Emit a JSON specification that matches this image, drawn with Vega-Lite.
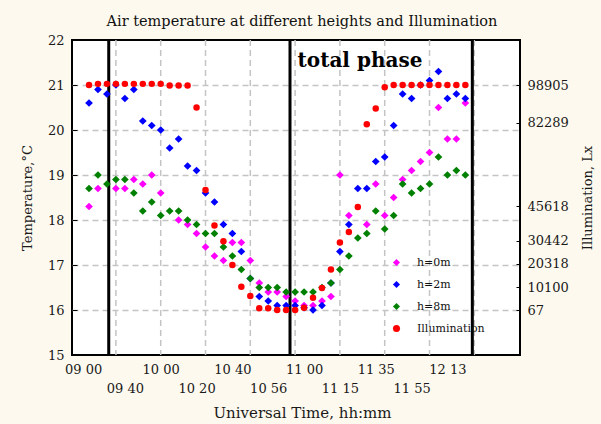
{
  "$schema": "https://vega.github.io/schema/vega-lite/v6.json",
  "width": 448,
  "height": 315,
  "autosize": {"type": "none"},
  "padding": {"left": 72, "top": 40, "right": 81, "bottom": 69},
  "background": "#fdf9ee",
  "title": {"text": "Air temperature at different heights and Illumination", "font": "DejaVu Serif", "fontSize": 14.5, "fontWeight": "normal", "color": "#111", "offset": 5, "dx": 6},
  "config": {
    "view": {"fill": "white", "stroke": "#000", "strokeWidth": 2},
    "font": "DejaVu Serif",
    "axis": {"domain": false, "labelFont": "DejaVu Serif", "titleFont": "DejaVu Serif", "labelFontSize": 13, "titleFontSize": 13, "titleFontWeight": "normal", "labelColor": "#1a1a1a", "titleColor": "#1a1a1a", "tickColor": "#000", "gridColor": "#c4c4c4", "gridDash": [6, 4], "gridWidth": 1.5},
    "legend": {"labelFont": "DejaVu Serif", "labelFontSize": 11, "labelColor": "#111"}
  },
  "datasets": {
    "temps": [
      {"k":2,"T":18.3,"series":"h=0m"},{"k":3,"T":18.7,"series":"h=0m"},{"k":5,"T":18.7,"series":"h=0m"},{"k":6,"T":18.7,"series":"h=0m"},{"k":7,"T":18.9,"series":"h=0m"},{"k":8,"T":18.8,"series":"h=0m"},{"k":9,"T":19.0,"series":"h=0m"},{"k":10,"T":18.6,"series":"h=0m"},{"k":12,"T":18.0,"series":"h=0m"},{"k":13,"T":17.9,"series":"h=0m"},{"k":14,"T":17.7,"series":"h=0m"},{"k":15,"T":17.4,"series":"h=0m"},{"k":16,"T":17.2,"series":"h=0m"},{"k":17,"T":17.1,"series":"h=0m"},{"k":18,"T":17.5,"series":"h=0m"},{"k":19,"T":17.5,"series":"h=0m"},{"k":20,"T":17.1,"series":"h=0m"},{"k":21,"T":16.6,"series":"h=0m"},{"k":22,"T":16.4,"series":"h=0m"},{"k":23,"T":16.4,"series":"h=0m"},{"k":24,"T":16.3,"series":"h=0m"},{"k":25,"T":16.2,"series":"h=0m"},{"k":26,"T":16.1,"series":"h=0m"},{"k":27,"T":16.1,"series":"h=0m"},{"k":28,"T":16.2,"series":"h=0m"},{"k":29,"T":16.3,"series":"h=0m"},{"k":30,"T":19.0,"series":"h=0m"},{"k":31,"T":18.1,"series":"h=0m"},{"k":33,"T":17.9,"series":"h=0m"},{"k":34,"T":18.8,"series":"h=0m"},{"k":35,"T":18.1,"series":"h=0m"},{"k":36,"T":18.5,"series":"h=0m"},{"k":37,"T":18.9,"series":"h=0m"},{"k":38,"T":19.1,"series":"h=0m"},{"k":39,"T":19.3,"series":"h=0m"},{"k":40,"T":19.5,"series":"h=0m"},{"k":41,"T":20.5,"series":"h=0m"},{"k":42,"T":19.8,"series":"h=0m"},{"k":43,"T":19.8,"series":"h=0m"},{"k":44,"T":20.6,"series":"h=0m"},
      {"k":2,"T":20.6,"series":"h=2m"},{"k":3,"T":20.9,"series":"h=2m"},{"k":4,"T":20.8,"series":"h=2m"},{"k":5,"T":21.0,"series":"h=2m"},{"k":6,"T":20.7,"series":"h=2m"},{"k":7,"T":20.9,"series":"h=2m"},{"k":8,"T":20.2,"series":"h=2m"},{"k":9,"T":20.1,"series":"h=2m"},{"k":10,"T":20.0,"series":"h=2m"},{"k":11,"T":19.6,"series":"h=2m"},{"k":12,"T":19.8,"series":"h=2m"},{"k":13,"T":19.2,"series":"h=2m"},{"k":14,"T":19.1,"series":"h=2m"},{"k":15,"T":18.6,"series":"h=2m"},{"k":16,"T":18.4,"series":"h=2m"},{"k":17,"T":17.9,"series":"h=2m"},{"k":18,"T":17.7,"series":"h=2m"},{"k":19,"T":17.3,"series":"h=2m"},{"k":20,"T":16.7,"series":"h=2m"},{"k":21,"T":16.3,"series":"h=2m"},{"k":22,"T":16.2,"series":"h=2m"},{"k":23,"T":16.1,"series":"h=2m"},{"k":24,"T":16.1,"series":"h=2m"},{"k":25,"T":16.1,"series":"h=2m"},{"k":26,"T":16.05,"series":"h=2m"},{"k":27,"T":16.0,"series":"h=2m"},{"k":28,"T":16.1,"series":"h=2m"},{"k":29,"T":16.6,"series":"h=2m"},{"k":30,"T":17.3,"series":"h=2m"},{"k":31,"T":17.9,"series":"h=2m"},{"k":32,"T":18.7,"series":"h=2m"},{"k":33,"T":18.7,"series":"h=2m"},{"k":34,"T":19.3,"series":"h=2m"},{"k":35,"T":19.4,"series":"h=2m"},{"k":36,"T":20.1,"series":"h=2m"},{"k":37,"T":20.8,"series":"h=2m"},{"k":38,"T":20.7,"series":"h=2m"},{"k":39,"T":21.0,"series":"h=2m"},{"k":40,"T":21.1,"series":"h=2m"},{"k":41,"T":21.3,"series":"h=2m"},{"k":42,"T":20.7,"series":"h=2m"},{"k":43,"T":20.8,"series":"h=2m"},{"k":44,"T":20.7,"series":"h=2m"},
      {"k":2,"T":18.7,"series":"h=8m"},{"k":3,"T":19.0,"series":"h=8m"},{"k":4,"T":18.8,"series":"h=8m"},{"k":5,"T":18.9,"series":"h=8m"},{"k":6,"T":18.9,"series":"h=8m"},{"k":7,"T":18.6,"series":"h=8m"},{"k":8,"T":18.2,"series":"h=8m"},{"k":9,"T":18.4,"series":"h=8m"},{"k":10,"T":18.1,"series":"h=8m"},{"k":11,"T":18.2,"series":"h=8m"},{"k":12,"T":18.2,"series":"h=8m"},{"k":13,"T":18.0,"series":"h=8m"},{"k":14,"T":17.9,"series":"h=8m"},{"k":15,"T":17.7,"series":"h=8m"},{"k":16,"T":17.7,"series":"h=8m"},{"k":17,"T":17.4,"series":"h=8m"},{"k":18,"T":17.2,"series":"h=8m"},{"k":19,"T":16.9,"series":"h=8m"},{"k":20,"T":16.7,"series":"h=8m"},{"k":21,"T":16.5,"series":"h=8m"},{"k":22,"T":16.5,"series":"h=8m"},{"k":23,"T":16.5,"series":"h=8m"},{"k":24,"T":16.4,"series":"h=8m"},{"k":25,"T":16.4,"series":"h=8m"},{"k":26,"T":16.4,"series":"h=8m"},{"k":27,"T":16.4,"series":"h=8m"},{"k":28,"T":16.5,"series":"h=8m"},{"k":29,"T":16.6,"series":"h=8m"},{"k":30,"T":16.9,"series":"h=8m"},{"k":31,"T":17.2,"series":"h=8m"},{"k":32,"T":17.6,"series":"h=8m"},{"k":33,"T":17.7,"series":"h=8m"},{"k":34,"T":18.2,"series":"h=8m"},{"k":35,"T":17.8,"series":"h=8m"},{"k":36,"T":18.1,"series":"h=8m"},{"k":37,"T":18.8,"series":"h=8m"},{"k":38,"T":18.6,"series":"h=8m"},{"k":39,"T":18.7,"series":"h=8m"},{"k":40,"T":18.8,"series":"h=8m"},{"k":41,"T":19.4,"series":"h=8m"},{"k":42,"T":19.0,"series":"h=8m"},{"k":43,"T":19.1,"series":"h=8m"},{"k":44,"T":19.0,"series":"h=8m"}
    ],
    "illum": [
      {"k":2,"lux":98905,"series":"Illumination"},{"k":3,"lux":99400,"series":"Illumination"},{"k":4,"lux":99400,"series":"Illumination"},{"k":5,"lux":99400,"series":"Illumination"},{"k":6,"lux":99400,"series":"Illumination"},{"k":7,"lux":99400,"series":"Illumination"},{"k":8,"lux":99400,"series":"Illumination"},{"k":9,"lux":99400,"series":"Illumination"},{"k":10,"lux":99400,"series":"Illumination"},{"k":11,"lux":98700,"series":"Illumination"},{"k":12,"lux":98700,"series":"Illumination"},{"k":13,"lux":98700,"series":"Illumination"},{"k":14,"lux":89000,"series":"Illumination"},{"k":15,"lux":52800,"series":"Illumination"},{"k":16,"lux":37200,"series":"Illumination"},{"k":17,"lux":30300,"series":"Illumination"},{"k":18,"lux":19800,"series":"Illumination"},{"k":19,"lux":10300,"series":"Illumination"},{"k":20,"lux":6200,"series":"Illumination"},{"k":21,"lux":860,"series":"Illumination"},{"k":22,"lux":860,"series":"Illumination"},{"k":23,"lux":67,"series":"Illumination"},{"k":24,"lux":67,"series":"Illumination"},{"k":25,"lux":67,"series":"Illumination"},{"k":26,"lux":1050,"series":"Illumination"},{"k":27,"lux":5400,"series":"Illumination"},{"k":28,"lux":9750,"series":"Illumination"},{"k":29,"lux":17850,"series":"Illumination"},{"k":30,"lux":29700,"series":"Illumination"},{"k":31,"lux":34300,"series":"Illumination"},{"k":32,"lux":45300,"series":"Illumination"},{"k":33,"lux":81700,"series":"Illumination"},{"k":34,"lux":88600,"series":"Illumination"},{"k":35,"lux":97900,"series":"Illumination"},{"k":36,"lux":98905,"series":"Illumination"},{"k":37,"lux":98905,"series":"Illumination"},{"k":38,"lux":98905,"series":"Illumination"},{"k":39,"lux":98905,"series":"Illumination"},{"k":40,"lux":98905,"series":"Illumination"},{"k":41,"lux":98905,"series":"Illumination"},{"k":42,"lux":98905,"series":"Illumination"},{"k":43,"lux":98905,"series":"Illumination"},{"k":44,"lux":98905,"series":"Illumination"}
    ],
    "gridx": [{"k":5},{"k":10},{"k":15},{"k":20},{"k":25},{"k":30},{"k":35},{"k":40},{"k":45}],
    "contacts": [{"k": 4.2}, {"k": 24.43}, {"k": 44.78}],
    "note": [{"k": 32.24, "T": 21.39, "label": "total phase"}]
  },
  "layer": [
    {
      "layer": [
        {
          "data": {"name": "gridx"},
          "mark": {"type": "rule", "color": "#c4c4c4", "strokeWidth": 1.5, "strokeDash": [6, 4]},
          "encoding": {"x": {"field": "k", "type": "quantitative"}}
        },
        {
          "data": {"name": "contacts"},
          "mark": {"type": "rule", "color": "#000", "strokeWidth": 3},
          "encoding": {"x": {"field": "k", "type": "quantitative"}}
        },
        {
          "data": {"name": "temps"},
          "mark": {"type": "point", "filled": true, "size": 60, "opacity": 1},
          "encoding": {
            "x": {
              "field": "k", "type": "quantitative",
              "scale": {"domain": [0.1, 50.1], "nice": false, "zero": false},
              "axis": {
                "values": [1.35, 6, 10, 14, 18, 22, 26, 30, 34, 38, 42],
                "title": "Universal Time, hh:mm",
                "titleFontSize": 15,
                "titlePadding": 10,
                "titleX": 230,
                "titleAlign": "center",
                "grid": false,
                "ticks": false,
                "labelExpr": "indexof([1.35,6,10,14,18,22,26,30,34,38,42], datum.value) % 2 == 1 ? ['', ['09 00','09 40','10 00','10 20','10 40','10 56','11 00','11 15','11 35','11 55','12 13'][indexof([1.35,6,10,14,18,22,26,30,34,38,42], datum.value)]] : ['09 00','09 40','10 00','10 20','10 40','10 56','11 00','11 15','11 35','11 55','12 13'][indexof([1.35,6,10,14,18,22,26,30,34,38,42], datum.value)]",
                "labelOverlap": false,
                "labelFlush": false,
                "labelBound": false,
                "labelPadding": 8,
                "labelLineHeight": 19,
                "labelBaseline": "top"
              }
            },
            "y": {
              "field": "T", "type": "quantitative",
              "scale": {"domain": [15, 22], "nice": false, "zero": false},
              "axis": {
                "orient": "left",
                "values": [15,16,17,18,19,20,21,22],
                "title": "Temperature,°C",
                "titlePadding": 13,
                "grid": true,
                "gridOpacity": {"condition": {"test": "datum.value > 15 && datum.value < 22", "value": 1}, "value": 0},
                "tickSize": -5,
                "labelPadding": 13
              }
            },
            "color": {
              "field": "series", "type": "nominal",
              "scale": {"domain": ["h=0m", "h=2m", "h=8m", "Illumination"], "range": ["#ff00ff", "#0000ff", "#008000", "#ff0000"]},
              "legend": {"orient": "none", "legendX": 319, "legendY": 217, "title": null, "padding": 0, "rowPadding": 10, "labelOffset": 15, "symbolSize": 50}
            },
            "shape": {
              "field": "series", "type": "nominal",
              "scale": {"domain": ["h=0m", "h=2m", "h=8m", "Illumination"], "range": ["diamond", "diamond", "diamond", "circle"]},
              "legend": {"orient": "none", "legendX": 319, "legendY": 217, "title": null, "padding": 0, "rowPadding": 10, "labelOffset": 15, "symbolSize": 50}
            }
          }
        },
        {
          "data": {"name": "note"},
          "mark": {"type": "text", "font": "DejaVu Serif", "fontSize": 20, "fontWeight": "bold", "align": "center", "baseline": "alphabetic", "color": "#000"},
          "encoding": {
            "x": {"field": "k", "type": "quantitative"},
            "y": {"field": "T", "type": "quantitative"},
            "text": {"field": "label"}
          }
        }
      ]
    },
    {
      "data": {"name": "illum"},
      "mark": {"type": "point", "filled": true, "size": 42, "opacity": 1},
      "encoding": {
        "x": {"field": "k", "type": "quantitative"},
        "y": {
          "field": "lux", "type": "quantitative",
          "scale": {"domain": [-19700.6, 118672.6], "nice": false, "zero": false},
          "axis": {
            "orient": "right",
            "values": [67, 10100, 20318, 30442, 45618, 82289, 98905],
            "format": "d",
            "title": "Illumination, Lx",
            "titleAngle": 270,
            "titlePadding": 26,
            "grid": false,
            "tickSize": -4,
            "labelPadding": 11
          }
        },
        "color": {"field": "series", "type": "nominal"},
        "shape": {"field": "series", "type": "nominal"}
      }
    }
  ],
  "resolve": {"scale": {"y": "independent"}}
}
